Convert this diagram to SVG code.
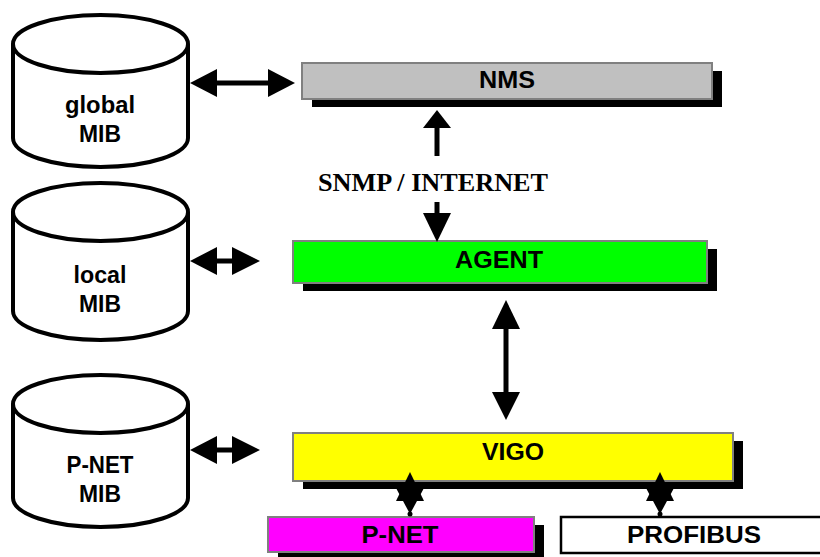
<svg xmlns="http://www.w3.org/2000/svg" width="820" height="557" viewBox="0 0 820 557">
<style>
.cyl{fill:#fff;stroke:#000;stroke-width:4}
.lbl{font-family:"Liberation Sans",Arial,sans-serif;font-weight:bold;font-size:23px;fill:#000;text-anchor:middle}
.box{stroke:#808080;stroke-width:2}
.sh{fill:#000}
.shaft{stroke:#000;stroke-width:5;fill:none}
.head{fill:#000}
</style>
<rect width="820" height="557" fill="#fff"/>
<g id="global-mib">
<path class="cyl" d="M13,44 V138 A87.5,29 0 0 0 188,138 V44"/>
<ellipse class="cyl" cx="100.5" cy="44" rx="87.5" ry="29"/>
<text class="lbl" x="100" y="113" textLength="70" lengthAdjust="spacingAndGlyphs">global</text>
<text class="lbl" x="100" y="142" textLength="42" lengthAdjust="spacingAndGlyphs">MIB</text>
</g>
<g id="local-mib">
<path class="cyl" d="M13,212 V311 A87.5,29 0 0 0 188,311 V212"/>
<ellipse class="cyl" cx="100.5" cy="212" rx="87.5" ry="29"/>
<text class="lbl" x="100" y="283" textLength="53" lengthAdjust="spacingAndGlyphs">local</text>
<text class="lbl" x="100" y="312" textLength="42" lengthAdjust="spacingAndGlyphs">MIB</text>
</g>
<g id="pnet-mib">
<path class="cyl" d="M13,404 V498 A87.5,29 0 0 0 188,498 V404"/>
<ellipse class="cyl" cx="100.5" cy="404" rx="87.5" ry="29"/>
<text class="lbl" x="100" y="473" textLength="67" lengthAdjust="spacingAndGlyphs">P-NET</text>
<text class="lbl" x="100" y="502" textLength="42" lengthAdjust="spacingAndGlyphs">MIB</text>
</g>
<g id="nms">
<rect class="sh" x="312" y="71" width="410" height="36"/>
<rect class="box" x="302" y="63" width="410" height="36" fill="#c0c0c0"/>
<text class="lbl" x="507" y="88" textLength="56" lengthAdjust="spacingAndGlyphs">NMS</text>
</g>
<g id="agent">
<rect class="sh" x="303" y="249" width="414" height="42"/>
<rect class="box" x="293" y="241" width="414" height="42" fill="#00ff00"/>
<text class="lbl" x="499" y="268" textLength="88" lengthAdjust="spacingAndGlyphs">AGENT</text>
</g>
<g id="vigo">
<rect class="sh" x="303" y="441" width="440" height="48"/>
<rect class="box" x="293" y="433" width="440" height="48" fill="#ffff00"/>
<text class="lbl" x="513" y="460" textLength="62" lengthAdjust="spacingAndGlyphs">VIGO</text>
</g>
<g id="pnet">
<rect class="sh" x="278" y="525" width="266" height="36"/>
<rect class="box" x="268" y="517" width="266" height="35" fill="#ff00ff"/>
<text class="lbl" x="400" y="543" textLength="77" lengthAdjust="spacingAndGlyphs">P-NET</text>
</g>
<g id="profibus">
<rect x="561" y="517" width="270" height="36" fill="#fff" stroke="#000" stroke-width="2.5"/>
<text class="lbl" x="694" y="543" textLength="134" lengthAdjust="spacingAndGlyphs">PROFIBUS</text>
</g>
<g id="connectors">
<line class="shaft" x1="215" y1="83" x2="270" y2="83"/>
<polygon class="head" points="190,83 217,69 217,97"/>
<polygon class="head" points="295,83 268,69 268,97"/>
<line class="shaft" x1="215" y1="261" x2="234" y2="261"/>
<polygon class="head" points="190,261 217,247 217,275"/>
<polygon class="head" points="260,261 232,247 232,275"/>
<line class="shaft" x1="215" y1="450" x2="234" y2="450"/>
<polygon class="head" points="190,450 217,436 217,464"/>
<polygon class="head" points="260,450 232,436 232,464"/>
<line class="shaft" x1="437" y1="126" x2="437" y2="156"/>
<polygon class="head" points="437,110 423,128 451,128"/>
<line class="shaft" x1="437" y1="202" x2="437" y2="215"/>
<polygon class="head" points="437,242 423,213 451,213"/>
<line class="shaft" x1="506" y1="327" x2="506" y2="394"/>
<polygon class="head" points="506,300 492,329 520,329"/>
<polygon class="head" points="506,420 492,392 520,392"/>
<polygon class="head" points="410,472 396,501 424,501"/>
<polygon class="head" points="410,514 396,488 424,488"/>
<circle cx="410" cy="514" r="2.5" fill="#000"/>
<polygon class="head" points="660,472 646,501 674,501"/>
<polygon class="head" points="660,514 646,488 674,488"/>
<circle cx="660" cy="514" r="2.5" fill="#000"/>
<text x="433" y="191" font-family="'Liberation Serif','Times New Roman',serif" font-weight="bold" font-size="25" text-anchor="middle" textLength="230" lengthAdjust="spacingAndGlyphs">SNMP / INTERNET</text>
</g>
</svg>
